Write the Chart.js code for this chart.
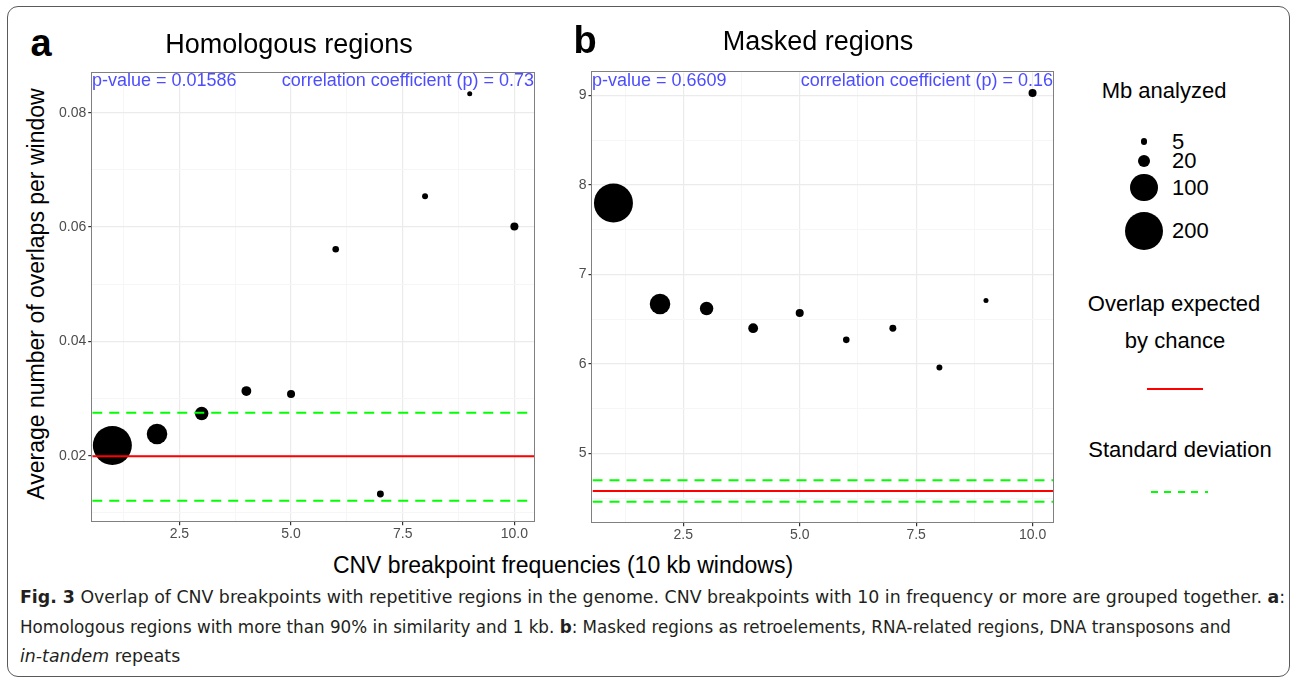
<!DOCTYPE html>
<html>
<head>
<meta charset="utf-8">
<script src="https://cdn.jsdelivr.net/npm/chart.js@4.4.1/dist/chart.umd.min.js"></script>
<style>
html, body { margin: 0; padding: 0; background: #fff; }
#fig { position: relative; width: 1294px; height: 681px; overflow: hidden; font-family: "Liberation Sans", Arial, sans-serif; color: #000; }
.frame { position: absolute; left: 7px; top: 6px; width: 1283px; height: 671px; border: 1px solid #5a5a5a; border-radius: 11px; box-sizing: border-box; }
.c { position: absolute; transform: translate(-50%, -50%); white-space: nowrap; line-height: 1; z-index: 2; }
.l { position: absolute; transform: translateY(-50%); white-space: nowrap; line-height: 1; z-index: 2; }
.r { position: absolute; transform: translate(-100%, -50%); white-space: nowrap; line-height: 1; z-index: 2; }
canvas { position: absolute; z-index: 1; }
.tag { font-size: 38px; font-weight: bold; }
.ttl { font-size: 27px; }
.note { font-size: 18px; color: #4d4dff; }
.axt { font-size: 23px; }
.leg { font-size: 22px; }
.dot { position: absolute; background: #000; border-radius: 50%; }
.cap { position: absolute; left: 20px; font-family: "DejaVu Sans", sans-serif; font-stretch: condensed; font-size: 18px; color: #231f20; white-space: nowrap; line-height: 1; transform-origin: 0 50%; }
</style>
</head>
<body>
<div id="fig">
  <div class="frame"></div>

  <div class="c tag" style="left:41px; top:43px;">a</div>
  <div class="c ttl" style="left:289px; top:44px;">Homologous regions</div>
  <div class="c tag" style="left:585px; top:40px;">b</div>
  <div class="c ttl" style="left:818px; top:41px;">Masked regions</div>

  <div class="l note" style="left:92px; top:80px;">p-value = 0.01586</div>
  <div class="r note" style="left:534px; top:80px;">correlation coefficient (p) = 0.73</div>
  <div class="l note" style="left:592px; top:80px;">p-value = 0.6609</div>
  <div class="r note" style="left:1053px; top:80px;">correlation coefficient (p) = 0.16</div>

  <div class="c axt" style="left:36px; top:294px; transform:translate(-50%,-50%) rotate(-90deg);">Average number of overlaps per window</div>
  <div class="c axt" style="left:563px; top:565px;">CNV breakpoint frequencies (10 kb windows)</div>

  <div id="legend"></div>

  <div class="cap" id="cap1" style="top:597px;"><b>Fig. 3</b> Overlap of CNV breakpoints with repetitive regions in the genome. CNV breakpoints with 10 in frequency or more are grouped together. <b>a</b>:</div>
  <div class="cap" id="cap2" style="top:627px;">Homologous regions with more than 90% in similarity and 1 kb. <b>b</b>: Masked regions as retroelements, RNA-related regions, DNA transposons and</div>
  <div class="cap" id="cap3" style="top:656px;"><i>in-tandem</i> repeats</div>
</div>

<script>
// CNV breakpoint frequency (10 = 10 or more)
const freqs = [1, 2, 3, 4, 5, 6, 7, 8, 9, 10];
// Mb analyzed per frequency class (point size)
const mbAnalyzed = [204, 54, 22, 11, 7, 4.4, 5, 3.5, 2.3, 7];
// a: homologous regions
const homologousOverlap = [0.0218, 0.0238, 0.0274, 0.0313, 0.0308, 0.0561, 0.0133, 0.0654, 0.0833, 0.0601];
const homologousExpected = 0.0199;
const homologousSd = [0.0121, 0.0275];
// b: masked regions
const maskedOverlap = [7.80, 6.67, 6.62, 6.40, 6.57, 6.27, 6.40, 5.96, 6.71, 9.03];
const maskedExpected = 4.58;
const maskedSd = [4.46, 4.70];

const xMajor = [2.5, 5.0, 7.5, 10.0];
const xMinor = [1.25, 3.75, 6.25, 8.75];
const yMajorA = [0.02, 0.04, 0.06, 0.08];
const yMinorA = [0.01, 0.03, 0.05, 0.07];
const yMajorB = [5, 6, 7, 8, 9];
const yMinorB = [4.5, 5.5, 6.5, 7.5, 8.5];
const sizeBreaks = [5, 20, 100, 200];

function sizeOf(mb) {
    return 1.33 * Math.sqrt(mb) + 0.5;
}

// ggplot style range: data span plus 5% each side
function expand(vals) {
    const lo = Math.min(...vals), hi = Math.max(...vals);
    const pad = (hi - lo) * 0.05;
    return [lo - pad, hi + pad];
}

const [xMin, xMax] = expand(freqs);

function isIn(list, v) {
    return list.some(m => Math.abs(m - v) < 1e-9);
}

const panelBorder = {
    id: 'panelBorder',
    afterDraw(chart) {
        const a = chart.chartArea;
        const ctx = chart.ctx;
        ctx.save();
        ctx.strokeStyle = '#808080';
        ctx.lineWidth = 1;
        ctx.strokeRect(Math.round(a.left) - 0.5, Math.round(a.top) - 0.5,
            Math.round(a.right - a.left) + 1, Math.round(a.bottom - a.top) + 1);
        ctx.restore();
    }
};

function hline(v, color, dash) {
    return {
        type: 'line',
        data: [{ x: xMin, y: v }, { x: xMax, y: v }],
        borderColor: color,
        borderWidth: 2,
        borderDash: dash,
        pointRadius: 0,
        fill: false,
        order: 0
    };
}

function panelConfig(ys, expected, sd, yMajor, yMinor, fmt) {
    const [yMin, yMax] = expand(ys.concat(sd, [expected]));
    const yAll = yMajor.concat(yMinor).filter(v => v > yMin && v < yMax).sort((a, b) => a - b);
    const xAll = xMajor.concat(xMinor).sort((a, b) => a - b);

    const tickFont = { family: 'Liberation Sans', size: 14 };
    const gridOpts = (major) => ({
        color: ctx => (ctx.tick && isIn(major, ctx.tick.value)) ? '#ebebeb' : '#f6f6f6',
        lineWidth: ctx => (ctx.tick && isIn(major, ctx.tick.value)) ? 1.2 : 1,
        tickColor: ctx => (ctx.tick && isIn(major, ctx.tick.value)) ? '#333333' : 'rgba(0,0,0,0)',
        tickLength: 4,
        drawTicks: true
    });

    return {
        type: 'scatter',
        data: {
            datasets: [
                hline(expected, '#ff0000', []),
                hline(sd[0], '#00ff00', [10, 7]),
                hline(sd[1], '#00ff00', [10, 7]),
                {
                    data: freqs.map((f, i) => ({ x: f, y: ys[i] })),
                    backgroundColor: '#000000',
                    borderWidth: 0,
                    pointRadius: mbAnalyzed.map(sizeOf),
                    pointHoverRadius: mbAnalyzed.map(sizeOf),
                    order: 1
                }
            ]
        },
        options: {
            responsive: false,
            maintainAspectRatio: false,
            animation: false,
            events: [],
            layout: { padding: 0 },
            plugins: { legend: { display: false }, tooltip: { enabled: false } },
            scales: {
                x: {
                    type: 'linear',
                    min: xMin,
                    max: xMax,
                    afterBuildTicks: ax => { ax.ticks = xAll.map(v => ({ value: v })); },
                    ticks: {
                        autoSkip: false, maxRotation: 0, padding: 1,
                        color: '#4d4d4d', font: tickFont,
                        callback: v => isIn(xMajor, v) ? v.toFixed(1) : ''
                    },
                    grid: gridOpts(xMajor),
                    border: { display: false }
                },
                y: {
                    type: 'linear',
                    min: yMin,
                    max: yMax,
                    afterBuildTicks: ax => { ax.ticks = yAll.map(v => ({ value: v })); },
                    ticks: {
                        autoSkip: false, padding: 2,
                        color: '#4d4d4d', font: tickFont,
                        callback: v => isIn(yMajor, v) ? fmt(v) : ''
                    },
                    grid: gridOpts(yMajor),
                    border: { display: false }
                }
            }
        },
        plugins: [panelBorder]
    };
}

// build the chart, then size and move the canvas so the plot box lands on target
function placePanel(target, makeCfg) {
    const fig = document.getElementById('fig');
    const tw = target.right - target.left, th = target.bottom - target.top;
    let w = Math.round(tw + 80), h = Math.round(th + 50);
    let chart, cv;
    for (let k = 0; k < 5; k++) {
        if (chart) { chart.destroy(); cv.remove(); }
        cv = document.createElement('canvas');
        cv.width = w;
        cv.height = h;
        fig.appendChild(cv);
        chart = new Chart(cv, makeCfg());
        const a = chart.chartArea;
        const dw = Math.round(tw - (a.right - a.left));
        const dh = Math.round(th - (a.bottom - a.top));
        if (dw === 0 && dh === 0) break;
        w += dw;
        h += dh;
    }
    const a = chart.chartArea;
    cv.style.left = (target.left - a.left) + 'px';
    cv.style.top = (target.top - a.top) + 'px';
    return chart;
}

placePanel({ left: 92, top: 73, right: 534, bottom: 521 },
    () => panelConfig(homologousOverlap, homologousExpected, homologousSd, yMajorA, yMinorA, v => v.toFixed(2)));
placePanel({ left: 592, top: 72, right: 1053, bottom: 522 },
    () => panelConfig(maskedOverlap, maskedExpected, maskedSd, yMajorB, yMinorB, v => String(Math.round(v))));

// legend (right column)
const legend = document.getElementById('legend');
function addText(cls, x, y, txt) {
    const d = document.createElement('div');
    d.className = cls;
    d.style.left = x + 'px';
    d.style.top = y + 'px';
    d.textContent = txt;
    legend.appendChild(d);
}
addText('c leg', 1164, 91, 'Mb analyzed');
const keyY = [141.5, 161, 187.5, 231];
sizeBreaks.forEach((mb, i) => {
    const r = sizeOf(mb);
    const d = document.createElement('div');
    d.className = 'dot';
    d.style.left = (1144 - r) + 'px';
    d.style.top = (keyY[i] - r) + 'px';
    d.style.width = d.style.height = (2 * r) + 'px';
    legend.appendChild(d);
    addText('l leg', 1172, keyY[i], String(mb));
});
addText('c leg', 1174, 304, 'Overlap expected');
addText('c leg', 1175, 341, 'by chance');
const red = document.createElement('div');
red.style.cssText = 'position:absolute;left:1147px;top:388px;width:56px;height:2px;background:#ff0000;';
legend.appendChild(red);
addText('c leg', 1180, 450, 'Standard deviation');
const green = document.createElement('div');
green.style.cssText = 'position:absolute;left:1151px;top:490.5px;width:57px;height:2px;' +
    'background:repeating-linear-gradient(to right,#00ff00 0 7px,transparent 7px 13.5px);';
legend.appendChild(green);

// fit caption lines to the printed widths
function fitLine(id, target, scale) {
    const el = document.getElementById(id);
    const w = el.getBoundingClientRect().width;
    const s = scale || target / w;
    el.style.transform = 'translateY(-50%) scaleX(' + s + ')';
    return s;
}
const capScale = fitLine('cap1', 1265);
fitLine('cap2', 1211);
fitLine('cap3', 0, capScale);
</script>
</body>
</html>
